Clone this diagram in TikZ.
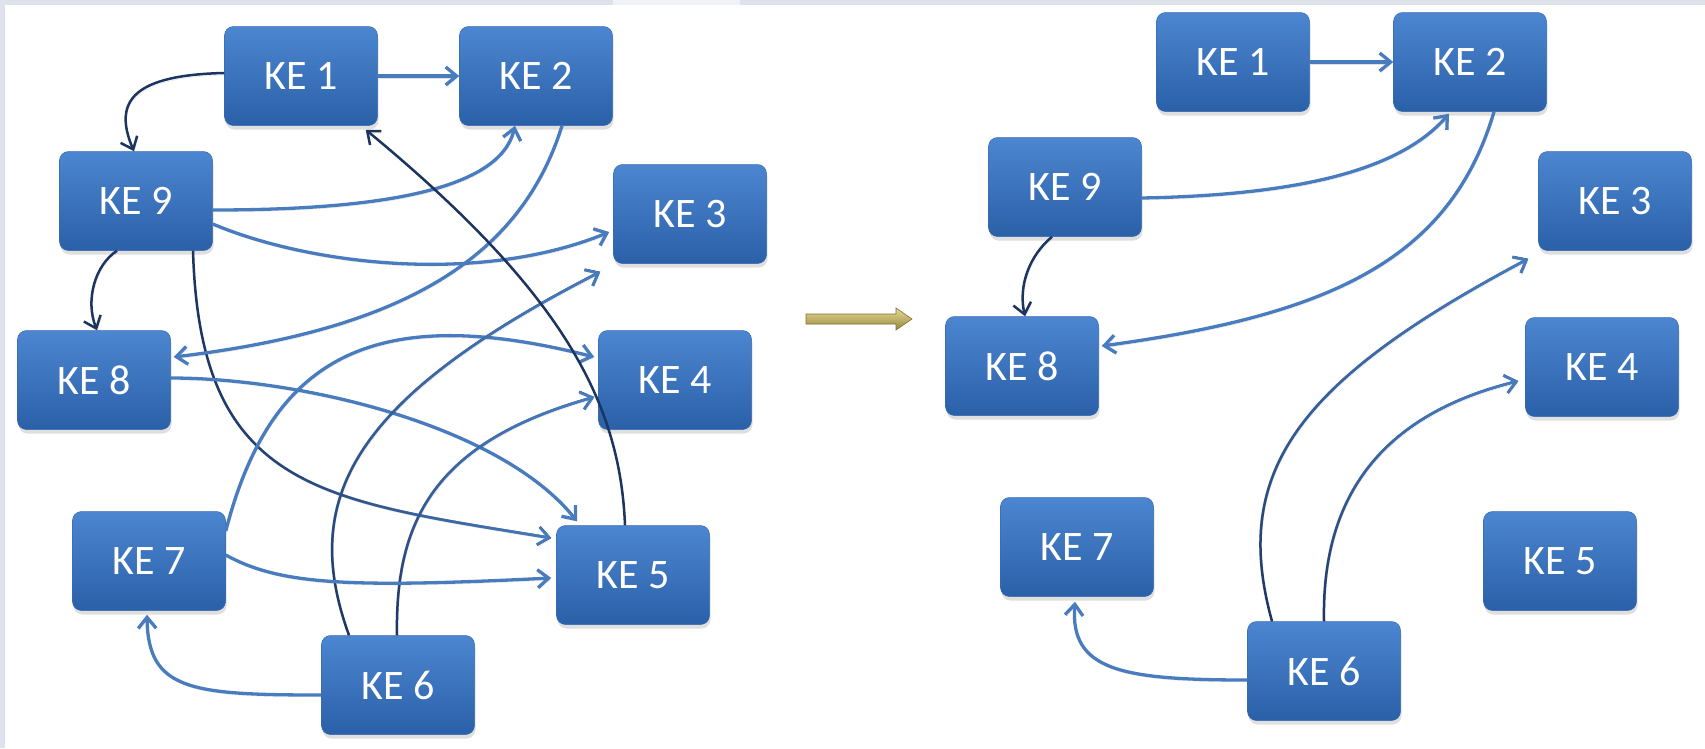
\documentclass[tikz,border=0pt]{standalone}
\usepackage{fontspec}
\newfontfamily\kefont{Carlito}
\usetikzlibrary{arrows.meta,calc,shadows,fadings}
\definecolor{boxtop}{RGB}{76,134,208}
\definecolor{boxbot}{RGB}{42,96,168}
\definecolor{boxedge}{RGB}{56,106,178}
\definecolor{lnblue}{RGB}{72,124,190}
\definecolor{lnnavy}{RGB}{28,52,96}
\definecolor{stripgray}{RGB}{222,226,235}
\definecolor{striplight}{RGB}{240,242,246}
\definecolor{goldtop}{RGB}{232,218,150}
\definecolor{goldbot}{RGB}{150,135,60}
\tikzfading[name=opaquetop, top color=transparent!0, bottom color=transparent!100]
\tikzfading[name=opaqueright, left color=transparent!100, right color=transparent!0]
\begin{document}
\begin{tikzpicture}[x=1pt,y=-1pt,
  kebox/.style={rectangle, rounded corners=9pt, minimum width=153pt, minimum height=99pt,
    inner sep=0pt, top color=boxtop, bottom color=boxbot, draw=boxedge, line width=0.5pt,
    text=white, font=\kefont\fontsize{42}{42}\selectfont,
    drop shadow={shadow xshift=1pt, shadow yshift=-4pt, opacity=0.25}},
  barbtip/.style={-{Straight Barb[length=11pt,width=18pt]}},
  lineshadow/.style={preaction={draw=black, draw opacity=0.12, transform canvas={xshift=1pt,yshift=-2pt}}},
  blueline/.style={draw=lnblue, line width=3.3pt, barbtip, lineshadow},
  navyline/.style={draw=lnnavy, line width=2.5pt, barbtip, lineshadow},
  fadeline/.style={draw=lnblue, line width=2.8pt, barbtip},
]
\useasboundingbox (0,0) rectangle (1705,748);
\fill[white] (0,0) rectangle (1705,748);
% slide background strips
\fill[stripgray] (0,0) rectangle (613,5);
\fill[striplight] (613,0) rectangle (740,5);
\fill[stripgray] (740,0) rectangle (1705,5);
\fill[stripgray] (0,0) rectangle (5,748);

% ---------- left graph ----------
\node[kebox] (k1) at (301,76) {KE 1};
\node[kebox] (k2) at (536,76) {KE 2};
\node[kebox] (k9) at (136,201) {KE 9};
\node[kebox] (k3) at (690,214) {KE 3};
\node[kebox] (k8) at (94,380) {KE 8};
\node[kebox] (k4) at (675,380) {KE 4};
\node[kebox] (k7) at (149,561) {KE 7};
\node[kebox] (k5) at (633,575) {KE 5};
\node[kebox] (k6) at (398,685) {KE 6};

\draw[blueline] (k1.east) -- (k2.west);
\draw[navyline] ($(k1.west)+(0,-3)$) .. controls (135,75) and (112,100) .. ($(k9.north)+(-2,0)$);
\draw[blueline] ($(k9.east)+(0,9)$) .. controls (380,210) and (500,190) .. ($(k2.south)+(-21,0)$);
\draw[blueline] ($(k9.east)+(0,23)$) .. controls (310,265) and (480,285) .. ($(k3.west)+(-4,18)$);
\draw[navyline] ($(k9.south)+(-19,0)$) .. controls (95,265) and (85,300) .. ($(k8.north)+(3,0)$);
\draw[navyline] ($(k9.south)+(57,0)$) .. controls (200,490) and (320,500) .. ($(k5.west)+(-5,-37)$);
\draw[fadeline, path fading=opaqueright] ($(k9.south)+(57,0)$) .. controls (200,490) and (320,500) .. ($(k5.west)+(-5,-37)$);
\draw[blueline] ($(k2.south)+(26,0)$) .. controls (520,260) and (400,330) .. ($(k8.east)+(3,-23)$);
\draw[blueline] ($(k8.east)+(0,-2)$) .. controls (300,378) and (500,425) .. ($(k5.north)+(-56,-4)$);
\draw[blueline] ($(k7.east)+(0,-30)$) .. controls (270,360) and (370,300) .. ($(k4.west)+(-4,-23)$);
\draw[navyline] ($(k6.north)+(-49,0)$) .. controls (300,500) and (350,400) .. ($(k3.south west)+(-13,8)$);
\draw[fadeline, path fading=opaquetop] ($(k6.north)+(-49,0)$) .. controls (300,500) and (350,400) .. ($(k3.south west)+(-13,8)$);
\draw[navyline] ($(k6.north)+(-1,0)$) .. controls (395,520) and (435,442) .. ($(k4.west)+(-4,17)$);
\draw[fadeline, path fading=opaquetop] ($(k6.north)+(-1,0)$) .. controls (395,520) and (435,442) .. ($(k4.west)+(-4,17)$);
\draw[blueline] ($(k7.east)+(0,-6)$) .. controls (280,585) and (350,588) .. ($(k5.west)+(-5,3)$);
\draw[blueline] ($(k6.west)+(0,10)$) .. controls (190,695) and (148,690) .. ($(k7.south)+(-2,4)$);
\draw[navyline] ($(k5.north)+(-8,0)$) .. controls (620,400) and (560,290) .. ($(k1.south east)+(-12,4)$);

% ---------- middle arrow ----------
\draw[top color=goldtop, bottom color=goldbot, draw=goldbot!85!black, line width=0.6pt]
  (806,314) -- (896,314) -- (896,308) -- (912,319) -- (896,330) -- (896,324) -- (806,324) -- cycle;

% ---------- right graph ----------
\node[kebox] (r1) at (1233,62) {KE 1};
\node[kebox] (r2) at (1470,62) {KE 2};
\node[kebox] (r9) at (1065,187) {KE 9};
\node[kebox] (r3) at (1615,201) {KE 3};
\node[kebox] (r8) at (1022,366) {KE 8};
\node[kebox] (r4) at (1602,367) {KE 4};
\node[kebox] (r7) at (1077,547) {KE 7};
\node[kebox] (r5) at (1560,561) {KE 5};
\node[kebox] (r6) at (1324,671) {KE 6};

\draw[blueline] (r1.east) -- (r2.west);
\draw[blueline] ($(r9.east)+(0,11)$) .. controls (1300,195) and (1400,170) .. ($(r2.south)+(-21,2)$);
\draw[navyline] ($(r9.south)+(-13,0)$) .. controls (1030,255) and (1018,285) .. ($(r8.north)+(3,0)$);
\draw[blueline] ($(r2.south)+(24,0)$) .. controls (1450,260) and (1330,315) .. ($(r8.east)+(3,-20)$);
\draw[navyline] ($(r6.north)+(-52,0)$) .. controls (1230,470) and (1300,380) .. ($(r3.south west)+(-10,8)$);
\draw[fadeline, path fading=opaquetop] ($(r6.north)+(-52,0)$) .. controls (1230,470) and (1300,380) .. ($(r3.south west)+(-10,8)$);
\draw[navyline] (r6.north) .. controls (1322,520) and (1360,420) .. ($(r4.west)+(-7,14)$);
\draw[fadeline, path fading=opaquetop] (r6.north) .. controls (1322,520) and (1360,420) .. ($(r4.west)+(-7,14)$);
\draw[blueline] ($(r6.west)+(0,9)$) .. controls (1120,680) and (1070,670) .. ($(r7.south)+(-2,5)$);
\end{tikzpicture}
\end{document}
